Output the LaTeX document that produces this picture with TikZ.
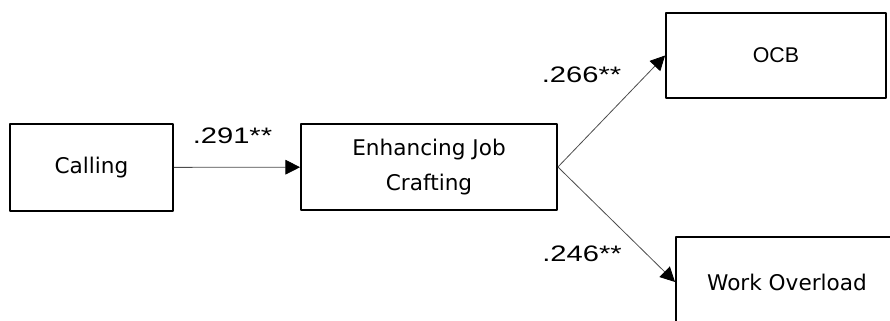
\documentclass[tikz,border=0pt]{standalone}
\usepackage{fontspec}
\setmainfont{DejaVu Sans}
\newfontfamily\arialfont{Liberation Sans}
\newfontfamily\coeffont[FakeStretch=1.3]{Liberation Sans}
\usetikzlibrary{arrows.meta}
\tikzset{
	varbox/.style={draw,line width=1.4pt,align=center,inner sep=0pt,font=\fontsize{16.2}{26.25}\selectfont},
	path/.style={draw=black!70,line width=0.6pt,-{Triangle[length=11pt,width=11pt,color=black]}},
	coef/.style={inner sep=0pt,font=\coeffont\fontsize{16.8}{18}\selectfont}
}
\begin{document}
\begin{tikzpicture}[x=0.75pt,y=-0.75pt,line join=round]
		\useasboundingbox (0,0) rectangle (890,321);
		\node[varbox,minimum width=163*0.75pt,minimum height=87*0.75pt] (calling) at (91.5,167.5) {Calling};
		\node[varbox,minimum width=256*0.75pt,minimum height=86*0.75pt] (ejc) at (429,167) {Enhancing Job\\Crafting};
		\node[varbox,minimum width=220*0.75pt,minimum height=85*0.75pt,font=\arialfont\fontsize{16}{18}\selectfont] (ocb) at (776,55.5) {OCB};
		\node[varbox,minimum width=222*0.75pt,minimum height=90*0.75pt] (wo) at (787,282) {Work Overload};
		% paths
		\draw[path] (calling) -- (ejc);
		\draw[path] (ejc.east) -- (ocb.west);
		\draw[path] (ejc.east) -- (wo.west);
		\node[coef] (c1) at (232.5,136) {.291**};
		\node[coef] (c2) at (581.5,75) {.266**};
		\node[coef] (c3) at (582,253.5) {.246**};
\end{tikzpicture}
\end{document}
